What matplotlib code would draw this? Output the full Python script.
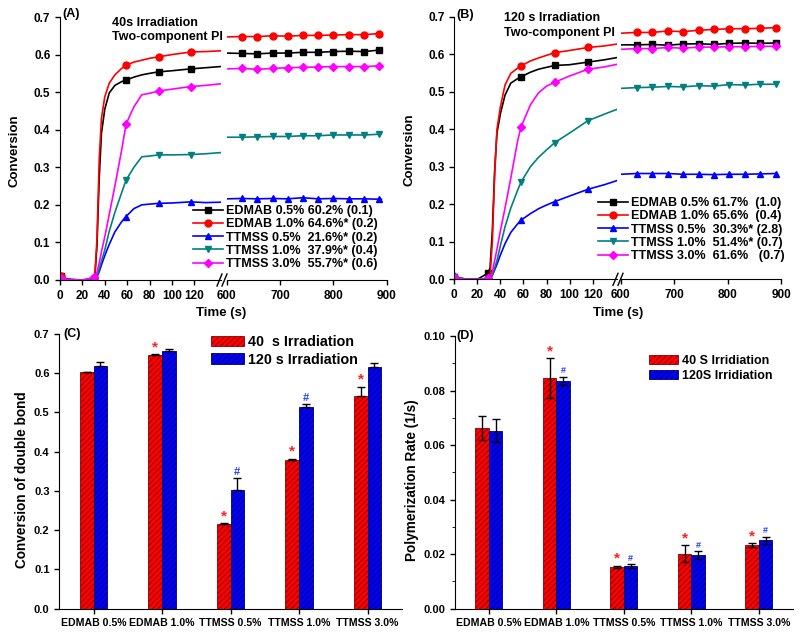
import numpy as np
import matplotlib
matplotlib.use('Agg')
import matplotlib.pyplot as plt
from matplotlib.lines import Line2D
from matplotlib.patches import Patch

plt.rcParams['font.family'] = ['Liberation Sans', 'DejaVu Sans']
plt.rcParams['font.weight'] = 'bold'
plt.rcParams['axes.labelweight'] = 'bold'
plt.rcParams['hatch.linewidth'] = 0.7
plt.rcParams['xtick.major.size'] = 3.5
plt.rcParams['ytick.major.size'] = 3.5
plt.rcParams['xtick.minor.size'] = 2
plt.rcParams['ytick.minor.size'] = 2

# ---------------- data: kinetics curves ----------------
series_colors = ['#000000', '#FF0000', '#0000FF', '#008080', '#FF00FF']
series_markers = ['s', 'o', '^', 'v', 'D']
series_msize = [5, 5, 5, 5, 4.3]

labels_A = ["EDMAB 0.5% 60.2% (0.1)", "EDMAB 1.0% 64.6%* (0.2)",
            "TTMSS 0.5%  21.6%* (0.2)", "TTMSS 1.0%  37.9%* (0.4)",
            "TTMSS 3.0%  55.7%* (0.6)"]
labels_B = ["EDMAB 0.5% 61.7%  (1.0)", "EDMAB 1.0% 65.6%  (0.4)",
            "TTMSS 0.5%  30.3%* (2.8)", "TTMSS 1.0%  51.4%* (0.7)",
            "TTMSS 3.0%  61.6%   (0.7)"]

# Panel A, first segment (0-145 s)
tA1 = [0, 1, 5, 10, 20, 30, 31, 33, 35, 37, 40, 44, 49, 55, 59, 66, 73, 80, 88, 100, 117, 130, 143]
markA1 = [1, 30, 59, 88, 117]
A1_edmab05 = [0.012, 0.010, 0.004, 0.001, 0.000, 0.002, 0.005, 0.09, 0.27, 0.39, 0.455, 0.498, 0.518, 0.528, 0.532, 0.540, 0.546, 0.550, 0.554, 0.557, 0.562, 0.565, 0.568]
A1_edmab10 = [0.012, 0.010, 0.004, 0.001, 0.000, 0.002, 0.006, 0.11, 0.32, 0.43, 0.488, 0.524, 0.546, 0.563, 0.572, 0.580, 0.585, 0.590, 0.594, 0.600, 0.607, 0.608, 0.610]
A1_ttmss05 = [0.004, 0.003, 0.002, 0.001, 0.000, 0.002, 0.003, 0.008, 0.022, 0.040, 0.065, 0.095, 0.128, 0.155, 0.169, 0.190, 0.200, 0.202, 0.204, 0.205, 0.208, 0.206, 0.207]
A1_ttmss10 = [0.004, 0.003, 0.002, 0.001, 0.000, 0.003, 0.004, 0.010, 0.030, 0.050, 0.080, 0.130, 0.180, 0.232, 0.266, 0.300, 0.328, 0.330, 0.333, 0.333, 0.334, 0.336, 0.339]
A1_ttmss30 = [0.005, 0.004, 0.002, 0.001, 0.000, 0.007, 0.008, 0.020, 0.045, 0.075, 0.115, 0.175, 0.250, 0.345, 0.415, 0.461, 0.493, 0.497, 0.503, 0.508, 0.515, 0.518, 0.522]

# Panel A, second segment (600-900 s)
tA2 = [600, 628, 657, 686, 714, 743, 771, 799, 829, 858, 886, 890]
markA2 = [628, 657, 686, 714, 743, 771, 799, 829, 858, 886]
A2_edmab05 = [0.604, 0.603, 0.602, 0.604, 0.604, 0.606, 0.606, 0.608, 0.609, 0.608, 0.612, 0.612]
A2_edmab10 = [0.647, 0.648, 0.648, 0.650, 0.649, 0.651, 0.651, 0.652, 0.653, 0.653, 0.656, 0.656]
A2_ttmss05 = [0.216, 0.217, 0.216, 0.217, 0.216, 0.219, 0.216, 0.217, 0.216, 0.216, 0.215, 0.215]
A2_ttmss10 = [0.380, 0.380, 0.381, 0.382, 0.382, 0.384, 0.384, 0.386, 0.386, 0.386, 0.388, 0.389]
A2_ttmss30 = [0.562, 0.563, 0.561, 0.563, 0.565, 0.566, 0.567, 0.568, 0.568, 0.568, 0.570, 0.570]

# Panel B, first segment
tB1 = [0, 1, 5, 10, 20, 29, 31, 33, 35, 37, 40, 44, 49, 55, 58, 66, 73, 80, 87, 100, 116, 130, 141]
markB1 = [0, 29, 58, 87, 116]
B1_edmab05 = [0.005, 0.004, 0.002, 0.001, 0.000, 0.016, 0.030, 0.13, 0.29, 0.39, 0.442, 0.491, 0.523, 0.535, 0.540, 0.552, 0.560, 0.565, 0.570, 0.572, 0.579, 0.585, 0.591]
B1_edmab10 = [0.005, 0.004, 0.002, 0.001, 0.000, 0.001, 0.010, 0.10, 0.28, 0.40, 0.460, 0.518, 0.549, 0.563, 0.569, 0.582, 0.590, 0.597, 0.604, 0.610, 0.618, 0.622, 0.627]
B1_ttmss05 = [0.011, 0.008, 0.003, 0.001, 0.000, 0.001, 0.003, 0.010, 0.025, 0.040, 0.065, 0.095, 0.125, 0.148, 0.158, 0.175, 0.188, 0.198, 0.207, 0.222, 0.240, 0.252, 0.263]
B1_ttmss10 = [0.005, 0.004, 0.002, 0.001, 0.000, 0.001, 0.003, 0.012, 0.030, 0.050, 0.090, 0.140, 0.190, 0.238, 0.260, 0.300, 0.325, 0.345, 0.364, 0.390, 0.423, 0.440, 0.453]
B1_ttmss30 = [0.005, 0.004, 0.002, 0.001, 0.000, 0.003, 0.005, 0.020, 0.050, 0.080, 0.130, 0.190, 0.270, 0.370, 0.407, 0.465, 0.497, 0.515, 0.525, 0.542, 0.560, 0.566, 0.573]

# Panel B, second segment
tB2 = [600, 630, 659, 688, 716, 746, 774, 803, 833, 861, 890, 893]
markB2 = [630, 659, 688, 716, 746, 774, 803, 833, 861, 890]
B2_edmab05 = [0.625, 0.625, 0.626, 0.624, 0.627, 0.628, 0.626, 0.629, 0.630, 0.629, 0.630, 0.631]
B2_edmab10 = [0.656, 0.658, 0.658, 0.662, 0.660, 0.664, 0.666, 0.668, 0.668, 0.669, 0.671, 0.672]
B2_ttmss05 = [0.280, 0.282, 0.282, 0.282, 0.280, 0.280, 0.279, 0.280, 0.280, 0.281, 0.282, 0.281]
B2_ttmss10 = [0.509, 0.511, 0.512, 0.514, 0.513, 0.516, 0.515, 0.519, 0.518, 0.520, 0.520, 0.521]
B2_ttmss30 = [0.613, 0.615, 0.615, 0.618, 0.616, 0.619, 0.619, 0.620, 0.620, 0.621, 0.621, 0.622]

# ---------------- data: bar charts ----------------
categories = ['EDMAB 0.5%', 'EDMAB 1.0%', 'TTMSS 0.5%', 'TTMSS 1.0%', 'TTMSS 3.0%']
conv40 = [0.602, 0.646, 0.216, 0.379, 0.543]
conv40_err = [0.002, 0.002, 0.002, 0.003, 0.023]
conv120 = [0.618, 0.656, 0.303, 0.514, 0.616]
conv120_err = [0.010, 0.005, 0.029, 0.007, 0.009]
rate40 = [0.0662, 0.0845, 0.0154, 0.0202, 0.0233]
rate40_err = [0.0045, 0.0073, 0.0003, 0.0031, 0.0007]
rate120 = [0.0653, 0.0835, 0.0157, 0.0196, 0.0251]
rate120_err = [0.0043, 0.0016, 0.0007, 0.0014, 0.0013]
sigC_40 = [False, True, True, True, True]
sigC_120 = [False, False, True, True, False]
sigD_40 = [False, True, True, True, True]
sigD_120 = [False, True, True, True, True]
legend_C = ['40  s Irradiation', '120 s Irradiation']
legend_D = ['40 S Irridiation', '120S Irridiation']

W, H = 800, 637
fig = plt.figure(figsize=(8, 6.37), dpi=100)


def fx(px):
    return px / W


def fy(py):
    return 1 - py / H


def curve_panel(l1, r1, l2, r2, top, bottom, xmax1, t1, m1, d1, t2, m2, d2):
    a1 = fig.add_axes([fx(l1), fy(bottom), fx(r1 - l1), (bottom - top) / H])
    a2 = fig.add_axes([fx(l2), fy(bottom), fx(r2 - l2), (bottom - top) / H])
    for i in range(5):
        idx1 = [k for k, t in enumerate(t1) if t in m1]
        idx2 = [k for k, t in enumerate(t2) if t in m2]
        a1.plot(t1, d1[i], color=series_colors[i], marker=series_markers[i],
                markersize=series_msize[i], lw=1.2, markevery=idx1)
        a2.plot(t2, d2[i], color=series_colors[i], marker=series_markers[i],
                markersize=series_msize[i], lw=1.2, markevery=idx2)
    for a in (a1, a2):
        a.set_ylim(0, 0.7)
        a.spines['top'].set_visible(False)
        a.spines['right'].set_visible(False)
        a.tick_params(labelsize=8.5, width=1)
    a1.set_xlim(0, xmax1)
    a1.set_xticks([0, 20, 40, 60, 80, 100, 120])
    a1.set_yticks(np.arange(0, 0.71, 0.1))
    a1.set_yticklabels(['%.1f' % v for v in np.arange(0, 0.71, 0.1)])
    a2.set_xlim(600, 900)
    a2.set_xticks([600, 700, 800, 900])
    a2.spines['left'].set_visible(False)
    a2.set_yticks([])
    for x0 in (r1 - 4, r1 + 1):
        fig.add_artist(Line2D([fx(x0), fx(x0 + 5)], [fy(bottom + 6), fy(bottom - 6)],
                              color='black', lw=1))
    return a1, a2


A1 = [A1_edmab05, A1_edmab10, A1_ttmss05, A1_ttmss10, A1_ttmss30]
A2 = [A2_edmab05, A2_edmab10, A2_ttmss05, A2_ttmss10, A2_ttmss30]
B1 = [B1_edmab05, B1_edmab10, B1_ttmss05, B1_ttmss10, B1_ttmss30]
B2 = [B2_edmab05, B2_edmab10, B2_ttmss05, B2_ttmss10, B2_ttmss30]

curve_panel(60, 221, 226.7, 386.7, 17, 280, 143.75, tA1, markA1, A1, tA2, markA2, A2)
curve_panel(454.3, 617, 620.7, 781, 16.7, 279.3, 141.1, tB1, markB1, B1, tB2, markB2, B2)

handles = [Line2D([], [], color=series_colors[i], marker=series_markers[i],
                  markersize=series_msize[i], lw=1.2) for i in range(5)]
fig.legend(handles, labels_A, loc='lower right', bbox_to_anchor=(fx(378), fy(270)),
           frameon=False, fontsize=9, handlelength=2.4, handletextpad=0.3,
           labelspacing=0.1, borderpad=0, borderaxespad=0)
fig.legend(handles, labels_B, loc='lower right', bbox_to_anchor=(fx(785), fy(262)),
           frameon=False, fontsize=9, handlelength=2.4, handletextpad=0.3,
           labelspacing=0.1, borderpad=0, borderaxespad=0)

fig.text(fx(62), fy(14), '(A)', fontsize=9, va='center')
fig.text(fx(111.7), fy(23.3), '40s Irradiation', fontsize=9, va='center')
fig.text(fx(111.7), fy(37.3), 'Two-component PI', fontsize=9, va='center')
fig.text(fx(456.7), fy(15), '(B)', fontsize=9, va='center')
fig.text(fx(504), fy(18.3), '120 s Irradiation', fontsize=9, va='center')
fig.text(fx(504), fy(33.3), 'Two-component PI', fontsize=9, va='center')
fig.text(fx(221), fy(312.7), 'Time (s)', fontsize=9.5, ha='center', va='center')
fig.text(fx(618), fy(312.7), 'Time (s)', fontsize=9.5, ha='center', va='center')
fig.text(fx(15), fy(150.7), 'Conversion', fontsize=9.5, ha='center', va='center', rotation=90)
fig.text(fx(410), fy(150), 'Conversion', fontsize=9.5, ha='center', va='center', rotation=90)

# ---------------- bar panels ----------------
x = np.arange(len(categories))
bw = 0.2


def bar_panel(left, right, top, bottom, v40, e40, v120, e120, up_only, ylim, yticks, fmt,
              minor, s40, s120, leg_labels, leg_anchor, leg_fs, star_fs, hash_fs):
    ax = fig.add_axes([fx(left), fy(bottom), fx(right - left), (bottom - top) / H])
    ax.bar(x - bw / 2, v40, bw, color='#FF0000', edgecolor='#8B0000', hatch='//////', lw=0.6)
    ax.bar(x + bw / 2, v120, bw, color='#0000FF', edgecolor='#000070', hatch='//////', lw=0.6)
    if up_only:
        y1 = [[0] * len(e40), e40]
        y2 = [[0] * len(e120), e120]
    else:
        y1, y2 = e40, e120
    ax.errorbar(x - bw / 2, v40, yerr=y1, fmt='none', ecolor='black', elinewidth=1,
                capsize=2.8, capthick=1)
    ax.errorbar(x + bw / 2, v120, yerr=y2, fmt='none', ecolor='black', elinewidth=1,
                capsize=2.8, capthick=1)
    for i in range(len(categories)):
        if s40[i]:
            ax.annotate('*', (x[i] - bw / 2, v40[i] + e40[i]), xytext=(0, 0),
                        textcoords='offset points', ha='center', va='bottom',
                        color='#FF2020', fontsize=star_fs, annotation_clip=False)
        if s120[i]:
            ax.annotate('#', (x[i] + bw / 2, v120[i] + e120[i]), xytext=(0, 1),
                        textcoords='offset points', ha='center', va='bottom',
                        color='#2040FF', fontsize=hash_fs, annotation_clip=False)
    ax.set_xlim(-0.5, len(categories) - 0.5)
    ax.set_ylim(*ylim)
    ax.set_yticks(yticks)
    ax.set_yticklabels([fmt % v for v in yticks])
    if minor is not None:
        ax.set_yticks(minor, minor=True)
    ax.set_xticks(x)
    ax.set_xticklabels(categories)
    ax.tick_params(axis='y', labelsize=8, width=1)
    ax.tick_params(axis='x', labelsize=7.6, width=1)
    ax.spines['top'].set_visible(False)
    ax.spines['right'].set_visible(False)
    ax.legend([Patch(facecolor='#FF0000', edgecolor='#8B0000', hatch='//////', lw=0.6),
               Patch(facecolor='#0000FF', edgecolor='#000070', hatch='//////', lw=0.6)],
              leg_labels, loc='upper right', bbox_to_anchor=leg_anchor,
              bbox_transform=fig.transFigure, frameon=False, fontsize=leg_fs,
              handlelength=2.3, handleheight=0.75, handletextpad=0.3, labelspacing=0.25,
              borderpad=0, borderaxespad=0)
    return ax


yC = np.round(np.arange(0, 0.71, 0.1), 2)
bar_panel(59.3, 401.8, 334, 608.7, conv40, conv40_err, conv120, conv120_err, True,
          (0, 0.7), yC, '%.1f', None, sigC_40, sigC_120, legend_C,
          (fx(358), fy(335)), 10.3, 11, 8)
yD = np.round(np.arange(0, 0.101, 0.02), 3)
mD = np.round(np.arange(0.01, 0.1, 0.02), 3)
bar_panel(455, 792.5, 336, 608.7, rate40, rate40_err, rate120, rate120_err, False,
          (0, 0.1), yD, '%.2f', mD, sigD_40, sigD_120, legend_D,
          (fx(772), fy(355)), 9, 11, 6.5)

fig.text(fx(63), fy(334), '(C)', fontsize=9, va='center')
fig.text(fx(456.7), fy(336), '(D)', fontsize=9, va='center')
fig.text(fx(22), fy(480), 'Conversion of double bond', fontsize=9.8, ha='center',
         va='center', rotation=90)
fig.text(fx(412), fy(480), 'Polymerization Rate (1/s)', fontsize=9.8, ha='center',
         va='center', rotation=90)

fig.savefig('out.png', dpi=100)
